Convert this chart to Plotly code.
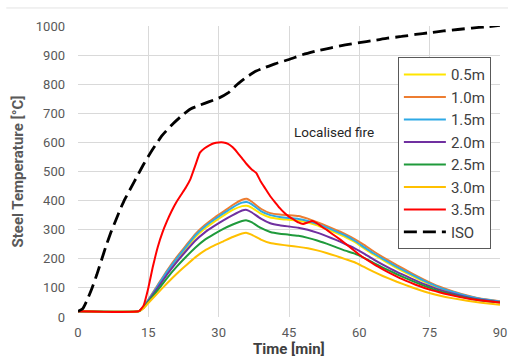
import plotly.graph_objects as go

# ---- data ----
t_fire = [0, 13, 14, 15, 17, 19, 21, 23, 25, 27, 29, 31, 33, 35, 36, 37, 39, 41, 43, 45,
          47, 49, 51, 53, 55, 57, 59, 61, 63, 65, 68, 71, 74, 77, 80, 83, 86, 90]

h_05 = [20, 20, 33, 56, 104, 152, 195, 235, 274, 303, 327, 348, 368, 381, 382, 376, 355, 342, 337, 334,
        331, 325, 315, 302, 289, 275, 258, 236, 215, 196, 168, 143, 120, 99, 84, 71, 61, 52]
h_10 = [20, 20, 35, 60, 110, 160, 205, 245, 285, 315, 340, 362, 385, 403, 406, 397, 372, 357, 352, 350,
        347, 338, 326, 313, 299, 285, 268, 248, 226, 206, 178, 152, 127, 105, 88, 74, 63, 54]
h_15 = [20, 20, 35, 58, 107, 156, 200, 240, 280, 310, 334, 356, 377, 393, 395, 388, 364, 350, 344, 340,
        337, 330, 320, 308, 294, 280, 262, 240, 219, 200, 172, 147, 123, 102, 86, 72, 62, 53]
h_20 = [20, 20, 33, 55, 100, 146, 188, 226, 262, 290, 312, 332, 350, 366, 368, 360, 338, 322, 315, 311,
        307, 300, 290, 278, 265, 251, 236, 218, 198, 180, 155, 133, 112, 94, 80, 68, 59, 51]
h_25 = [20, 20, 32, 52, 92, 134, 172, 206, 238, 265, 285, 303, 318, 330, 332, 326, 306, 292, 286, 283,
        279, 272, 263, 252, 240, 228, 218, 203, 186, 170, 147, 126, 106, 89, 76, 65, 57, 50]
h_30 = [20, 20, 30, 48, 82, 116, 148, 177, 205, 228, 245, 260, 275, 287, 289, 283, 266, 254, 249, 245,
        241, 236, 229, 220, 210, 199, 188, 172, 156, 141, 121, 103, 87, 74, 64, 56, 49, 42]

t_red = [0, 13, 14, 15, 16, 17, 18, 19, 20, 21, 22, 23, 24, 25, 26, 27, 28, 29, 30, 31,
         32, 33, 34, 35, 36, 37, 38, 39, 40, 41, 42, 43, 44, 45, 46, 47, 48, 49, 50, 51,
         52, 53, 54, 56, 58, 60, 62, 64, 66, 68, 70, 72, 75, 78, 81, 84, 87, 90]
h_35 = [20, 20, 40, 100, 175, 240, 290, 330, 365, 395, 420, 445, 475, 520, 565, 580, 590, 597, 600, 600,
        595, 583, 565, 545, 525, 508, 495, 465, 440, 415, 395, 375, 358, 345, 335, 325, 320, 325, 330, 322,
        310, 300, 288, 265, 240, 214, 193, 173, 155, 139, 124, 111, 94, 81, 70, 61, 55, 50]

t_iso = [0, 1, 2, 3, 4, 5, 6, 7, 8, 9, 10, 12, 14, 16, 18, 20, 22, 24, 26, 28,
         30, 32, 34, 36, 38, 40, 42, 45, 48, 51, 54, 57, 60, 63, 66, 69, 72, 75, 78, 81, 84, 87, 90]
iso = [20, 28, 60, 100, 145, 195, 245, 290, 330, 370, 405, 465, 525, 578, 625, 660, 690, 715, 728, 740,
       752, 770, 800, 825, 845, 858, 870, 885, 902, 915, 925, 935, 943, 950, 958, 964, 971, 977, 983, 988,
       993, 997, 1002]

series = [
    ("0.5m", t_fire, h_05, "#FFE500"),
    ("1.0m", t_fire, h_10, "#ED7D31"),
    ("1.5m", t_fire, h_15, "#2EA9E6"),
    ("2.0m", t_fire, h_20, "#7030A0"),
    ("2.5m", t_fire, h_25, "#1F9A3B"),
    ("3.0m", t_fire, h_30, "#FFC000"),
    ("3.5m", t_red, h_35, "#FF0000"),
]

x_ticks = [0, 15, 30, 45, 60, 75, 90]
y_ticks = [0, 100, 200, 300, 400, 500, 600, 700, 800, 900, 1000]

FONT = "Roboto, Arial, sans-serif"

fig = go.Figure()
for i, (name, tx, ty, col) in enumerate(series):
    fig.add_trace(go.Scatter(x=tx, y=ty, mode="lines", name=name,
                             legendgroup=f"g{i}",
                             line=dict(color=col, width=2, shape="spline", smoothing=0.4)))
fig.add_trace(go.Scatter(x=t_iso, y=iso, mode="lines", name="ISO", legendgroup="iso",
                         line=dict(color="black", width=2.8, dash="13px,6px",
                                   shape="spline", smoothing=0.5)))

fig.add_annotation(x=45.6, y=636, xref="x", yref="y", text="Localised fire",
                   showarrow=False, xanchor="left", yanchor="middle",
                   font=dict(family=FONT, size=13.5, color="#262626"))

# axis titles placed as annotations
fig.add_annotation(x=0.5, y=-0.111, xref="paper", yref="paper", text="<b>Time [min]</b>",
                   showarrow=False, xanchor="center", yanchor="middle",
                   font=dict(family=FONT, size=15, color="#404040"))
fig.add_annotation(x=-0.1445, y=0.5, xref="paper", yref="paper",
                   text="<b>Steel Temperature [°C]</b>", textangle=-90,
                   showarrow=False, xanchor="center", yanchor="middle",
                   font=dict(family=FONT, size=15, color="#595959"))

# thin frame line at the very top of the picture
fig.add_shape(type="line", xref="paper", yref="paper", x0=-0.17, x1=1.02,
              y0=1.062, y1=1.062, line=dict(color="#E3E3E3", width=1))

fig.update_layout(
    width=508, height=359,
    margin=dict(l=78, r=8, t=26, b=41.5, autoexpand=False),
    paper_bgcolor="white", plot_bgcolor="white",
    font=dict(family=FONT, color="#595959", size=12),
    showlegend=True,
    legend=dict(x=0.758, y=0.893, xanchor="left", yanchor="top",
                bgcolor="white", bordercolor="#595959", borderwidth=1,
                font=dict(family=FONT, size=15, color="#404040"),
                tracegroupgap=2, itemwidth=42,
                traceorder="normal"),
    xaxis=dict(range=[0, 90], tickvals=x_ticks, showgrid=True, gridcolor="#D9D9D9",
               gridwidth=1, zeroline=False, showline=False, ticks="", automargin=False,
               tickfont=dict(size=13, color="#595959"), ticklabelstandoff=6),
    yaxis=dict(range=[0, 1000], tickvals=y_ticks, showgrid=True, gridcolor="#D9D9D9",
               gridwidth=1, zeroline=False, showline=False, ticks="", automargin=False,
               tickfont=dict(size=13, color="#595959"), ticklabelstandoff=12),
)

fig.write_html("out.html", config={"displayModeBar": False},
               post_script="document.body.style.margin='0';document.body.style.overflow='hidden';")
